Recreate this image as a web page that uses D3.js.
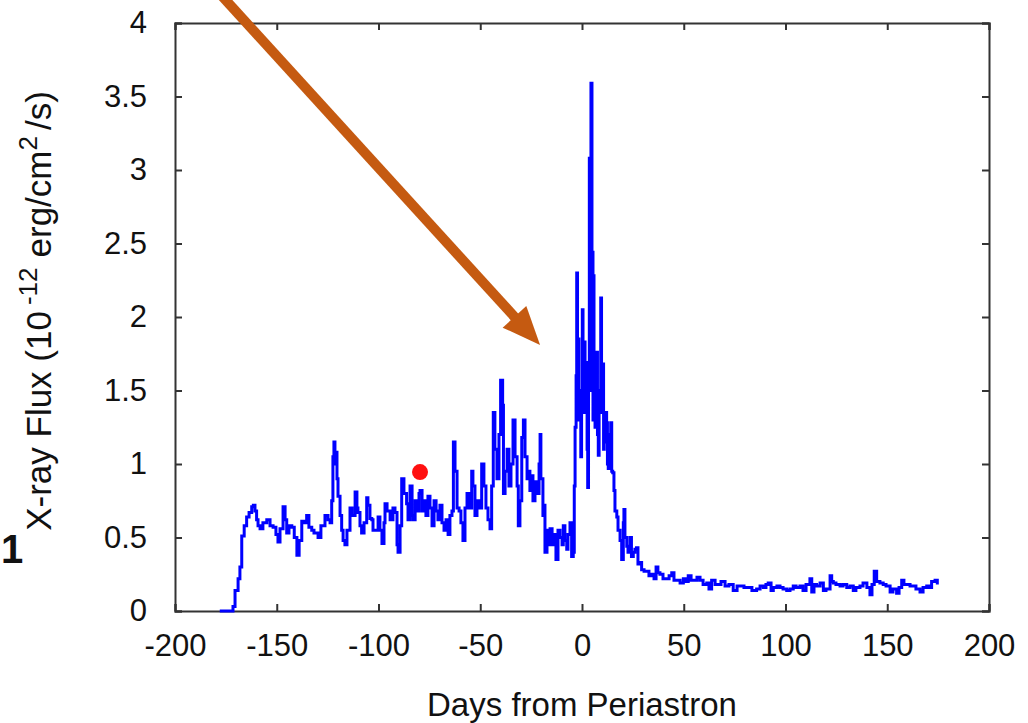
<!DOCTYPE html>
<html>
<head>
<meta charset="utf-8">
<script src="https://cdn.jsdelivr.net/npm/d3@7"></script>
<style>
  body { margin: 0; background: #fff; }
  text { font-family: "Liberation Sans", Arial, sans-serif; fill: #111; }
</style>
</head>
<body>
<script>
(function (d3) {
  'use strict'
  const W = 1028
  const H = 723
  const margin = { top: 23, right: 39, bottom: 112, left: 175 }
  const w = W - margin.left - margin.right
  const h = H - margin.top - margin.bottom

  // light curve, days from periastron vs flux (1e-12 erg/cm2/s)
  const days = [
    -178, -176.4, -172.1, -171.5, -170.5, -169, -168.1, -167.2, -166, -164.8,
    -163.6, -162.3, -161.5, -160.7, -159.9, -159.2, -158.2, -156.8, -154.9, -153.3,
    -151.8, -150.4, -149.4, -148.4, -146.9, -145.9, -145.1, -144, -142.6, -141.4,
    -140.1, -139, -137.7, -136.6, -135.3, -134.2, -132.8, -131.7, -129.7, -128.3,
    -126.3, -124.8, -123.8, -123, -122.4, -121.9, -121.4, -120.9, -120.4, -119.9,
    -118.9, -118.1, -117.4, -116.5, -115.5, -114, -113, -111.5, -110.6, -110.1,
    -109.1, -108.3, -107.1, -105.8, -105.2, -104.2, -103.3, -102.7, -101.7, -100.2,
    -99.3, -98.3, -97.3, -96.8, -95.8, -94.3, -92.9, -91.9, -90.9, -90.4,
    -89.4, -88.6, -87.5, -86.2, -85.5, -84.5, -83.5, -83, -82, -81,
    -80.1, -79.6, -78.6, -77.6, -76.7, -75.7, -74.7, -73.7, -72.7, -71.7,
    -70.8, -69.8, -68.8, -67.8, -66.8, -65.8, -64.9, -63.9, -63.2, -62.4,
    -61.4, -60.4, -59.5, -58.5, -57.5, -56.5, -55.5, -54.2, -53.6, -52.6,
    -51.6, -50.6, -49.3, -48.2, -47.2, -46.2, -45.2, -44.4, -43.6, -42.8,
    -41.8, -40.8, -40, -39, -38.6, -37.8, -36.8, -35.9, -34.9, -33.9,
    -32.9, -31.9, -31.3, -30.5, -29.6, -28.8, -28, -27, -26, -25.6,
    -24.7, -24.1, -23.1, -22.1, -21.1, -20.6, -20.2, -19.2, -18.7, -18.2,
    -17.2, -16.2, -15.7, -14.7, -13.8, -12.8, -11.8, -10.8, -9.8, -9.2,
    -8.4, -7.5, -6.9, -5.9, -5.1, -4.3, -3.8, -3.4, -2.9, -2.6,
    -2.2, -1.8, -1.5, -1.0, -0.6, -0.2, 0.15, 0.5, 1.1, 1.5,
    2.0, 2.5, 2.8, 3.2, 3.6, 3.9, 4.4, 4.9, 5.1, 5.4,
    5.6, 5.9, 6.4, 6.7, 7.2, 7.6, 8.0, 8.4, 8.8, 9.2,
    9.6, 10.2, 10.6, 10.9, 11.5, 12.1, 12.5, 12.9, 13.5, 14.1,
    14.6, 15.1, 15.7, 16.2, 17.1, 17.7, 18.7, 19.5, 20.3, 20.6,
    21.1, 22.0, 22.6, 23.6, 24.3, 25.2, 26.0, 26.8, 27.5, 28.1,
    29.3, 30.5, 31.8, 32.9, 34.3, 35.4, 36.4, 37.3, 38.3, 39.8,
    41.6, 42.8, 44.1, 45.2, 46.6, 48.2, 49.8, 51.1, 52.2, 53.6,
    54.7, 56.5, 58.0, 59.5, 61.3, 62.4, 63.7, 65.4, 67.0, 68.3,
    70.3, 72.2, 74.3, 76.2, 77.6, 79.6, 81.7, 83.5, 85.8, 87.5,
    89.1, 90.4, 91.5, 92.9, 94, 95.8, 97.3, 98.8, 100.6, 102.2,
    103.8, 105.2, 107.1, 108.6, 110.1, 112, 112.9, 114, 115.3, 117,
    118.6, 119.9, 121.9, 122.7, 123.5, 124.8, 126.8, 128.3, 130.1, 131.7,
    133.3, 134.6, 136.6, 138.1, 139.1, 140, 141.5, 142.5, 143.6, 144.8,
    146.4, 148, 149.4, 151.4, 152.8, 154.6, 155.8, 157.1, 158.2, 159.6,
    161.2, 162.8, 164.1, 166.1, 167.6, 169.4, 170.5, 171.8, 173.5, 174.6
  ]
  const flux = [
    0, 0, 0, 0.03, 0.14, 0.22, 0.30, 0.51, 0.58, 0.64,
    0.67, 0.71, 0.72, 0.68, 0.62, 0.58, 0.56, 0.60, 0.62, 0.58,
    0.57, 0.52, 0.47, 0.56, 0.71, 0.62, 0.53, 0.58, 0.57, 0.50,
    0.38, 0.48, 0.61, 0.60, 0.65, 0.57, 0.55, 0.53, 0.50, 0.58,
    0.65, 0.62, 0.60, 0.75, 1.05, 1.15, 1.0, 1.08, 0.90, 0.78,
    0.65, 0.55, 0.48, 0.45, 0.55, 0.70, 0.65, 0.81, 0.70, 0.67,
    0.58, 0.53, 0.60, 0.77, 0.72, 0.63, 0.62, 0.55, 0.55, 0.64,
    0.55, 0.46, 0.60, 0.73, 0.68, 0.62, 0.70, 0.67, 0.45, 0.40,
    0.58, 0.90, 0.80, 0.73, 0.62, 0.85, 0.65, 0.62, 0.75, 0.68,
    0.80, 0.82, 0.68, 0.75, 0.65, 0.78, 0.70, 0.58, 0.75, 0.68,
    0.62, 0.72, 0.60, 0.55, 0.62, 0.52, 0.65, 0.68, 1.15, 0.95,
    0.70, 0.68, 0.60, 0.48, 0.70, 0.80, 0.70, 0.95, 0.85, 0.65,
    0.75, 0.70, 1.0, 0.85, 0.70, 0.62, 0.56, 0.85, 1.35, 1.10,
    0.90, 1.2, 1.57, 1.40, 0.80, 0.95, 1.10, 0.85, 1.0, 1.30,
    1.05, 0.85, 0.58, 0.75, 1.18, 1.30, 1.05, 0.90, 0.95, 0.82,
    0.92, 0.75, 0.88, 0.80, 1.0, 1.20, 0.90, 0.65, 0.72, 0.40,
    0.55, 0.45, 0.56, 0.45, 0.52, 0.35, 0.55, 0.50, 0.45, 0.58,
    0.48, 0.42, 0.52, 0.60, 0.37, 0.40, 0.85, 1.25, 1.60, 2.30,
    1.55, 1.85, 1.30, 1.45, 1.05, 1.50, 2.05, 1.35, 1.83, 1.40,
    1.69, 1.10, 0.84, 1.50, 3.08, 1.50, 3.59, 1.90, 2.44, 1.30,
    2.28, 1.55, 1.25, 1.75, 1.76, 1.20, 1.06, 1.50, 1.45, 2.13,
    1.35, 1.68, 1.10, 1.15, 1.35, 1.28, 1.00, 0.97, 1.20, 1.28,
    0.95, 0.94, 0.82, 0.68, 0.64, 0.55, 0.48, 0.35, 0.60, 0.69,
    0.50, 0.44, 0.40, 0.50, 0.37, 0.40, 0.42, 0.43, 0.32, 0.33,
    0.28, 0.27, 0.27, 0.24, 0.25, 0.22, 0.30, 0.26, 0.25, 0.22,
    0.22, 0.24, 0.26, 0.21, 0.21, 0.19, 0.22, 0.20, 0.24, 0.21,
    0.21, 0.23, 0.21, 0.18, 0.19, 0.15, 0.21, 0.18, 0.18, 0.20,
    0.17, 0.18, 0.14, 0.17, 0.17, 0.16, 0.16, 0.14, 0.15, 0.17,
    0.16, 0.18, 0.19, 0.14, 0.16, 0.17, 0.16, 0.15, 0.14, 0.15,
    0.17, 0.16, 0.17, 0.14, 0.18, 0.22, 0.13, 0.18, 0.17, 0.19,
    0.14, 0.15, 0.24, 0.20, 0.19, 0.18, 0.17, 0.18, 0.16, 0.17,
    0.14, 0.16, 0.17, 0.19, 0.19, 0.16, 0.11, 0.18, 0.27, 0.20,
    0.19, 0.18, 0.17, 0.13, 0.15, 0.12, 0.16, 0.21, 0.18, 0.18,
    0.17, 0.17, 0.15, 0.13, 0.16, 0.17, 0.16, 0.20, 0.21, 0.18
  ]
  const xTicks = [-200, -150, -100, -50, 0, 50, 100, 150, 200]
  const yTicks = [0, 0.5, 1, 1.5, 2, 2.5, 3, 3.5, 4]
  const marked = { day: -79.6, flux: 0.945 }
  const arrowFrom = { day: -178, flux: 4.2 }
  const arrowTo = { day: -20.6, flux: 1.81 }

  const data = days.map((d, i) => ({ day: d, flux: flux[i] }))

  const svg = d3.select('body').append('svg')
    .attr('width', W)
    .attr('height', H)

  const g = svg.append('g')
    .attr('transform', 'translate(' + margin.left + ',' + margin.top + ')')

  const x = d3.scaleLinear().domain([-200, 200]).range([0, w])
  const y = d3.scaleLinear().domain([0, 4]).range([h, 0])

  const axisColor = '#333'
  const fmt = d => String(d)

  // mirrored inward ticks on all four sides
  const bottom = g.append('g').attr('transform', 'translate(0,' + h + ')')
    .call(d3.axisBottom(x).tickValues(xTicks).tickSize(-7).tickPadding(23).tickFormat(fmt))
  const top = g.append('g')
    .call(d3.axisTop(x).tickValues(xTicks).tickSize(-7).tickFormat(''))
  const left = g.append('g')
    .call(d3.axisLeft(y).tickValues(yTicks).tickSize(-7).tickPadding(28).tickFormat(fmt))
  const right = g.append('g').attr('transform', 'translate(' + w + ',0)')
    .call(d3.axisRight(y).tickValues(yTicks).tickSize(-7).tickFormat(''))

  ;[bottom, top, left, right].forEach(a => {
    a.select('.domain').attr('stroke', axisColor).attr('stroke-width', 2)
    a.selectAll('.tick line').attr('stroke', axisColor).attr('stroke-width', 2)
    a.selectAll('.tick text')
      .attr('font-size', 31)
      .attr('font-family', '"Liberation Sans", Arial, sans-serif')
      .attr('fill', '#111')
  })

  const line = d3.line()
    .x(d => x(d.day))
    .y(d => y(d.flux))
    .curve(d3.curveStepAfter)

  g.append('path')
    .datum(data)
    .attr('fill', 'none')
    .attr('stroke', '#0000ff')
    .attr('stroke-width', 3)
    .attr('stroke-linejoin', 'miter')
    .attr('d', line)

  g.append('circle')
    .attr('cx', x(marked.day))
    .attr('cy', y(marked.flux))
    .attr('r', 8)
    .attr('fill', '#ff1010')

  // annotation arrow
  const ax0 = x(arrowFrom.day), ay0 = y(arrowFrom.flux)
  const ax1 = x(arrowTo.day), ay1 = y(arrowTo.flux)
  const len = Math.hypot(ax1 - ax0, ay1 - ay0)
  const ux = (ax1 - ax0) / len, uy = (ay1 - ay0) / len
  const headLen = 38, headHalf = 16
  const bx = ax1 - ux * headLen, by = ay1 - uy * headLen
  const arrowColor = '#c55a11'

  g.append('line')
    .attr('x1', ax0).attr('y1', ay0)
    .attr('x2', bx + ux * 2).attr('y2', by + uy * 2)
    .attr('stroke', arrowColor)
    .attr('stroke-width', 10)

  g.append('polygon')
    .attr('points', [
      [ax1, ay1],
      [bx - uy * headHalf, by + ux * headHalf],
      [bx + uy * headHalf, by - ux * headHalf]
    ].map(p => p.join(',')).join(' '))
    .attr('fill', arrowColor)

  // axis titles
  svg.append('text')
    .attr('x', margin.left + w / 2)
    .attr('y', 716)
    .attr('text-anchor', 'middle')
    .attr('font-size', 33)
    .text('Days from Periastron')

  const yl = svg.append('text')
    .attr('transform', 'translate(51,311) rotate(-90)')
    .attr('text-anchor', 'middle')
    .attr('font-size', 35)
  yl.append('tspan').text('X-ray Flux (10')
  yl.append('tspan').attr('dy', -14).attr('dx', 6).attr('font-size', 26).text('-12')
  yl.append('tspan').attr('dy', 14).attr('dx', 10).text('erg/cm')
  yl.append('tspan').attr('dy', -14).attr('font-size', 26).text('2')
  yl.append('tspan').attr('dy', 14).attr('dx', 6).text('/s)')

  // fragment of neighbouring slide content at the left edge
  svg.append('text')
    .attr('x', 1)
    .attr('y', 563)
    .attr('font-size', 40)
    .attr('font-weight', 'bold')
    .text('1')

}(d3))
</script>
</body>
</html>
